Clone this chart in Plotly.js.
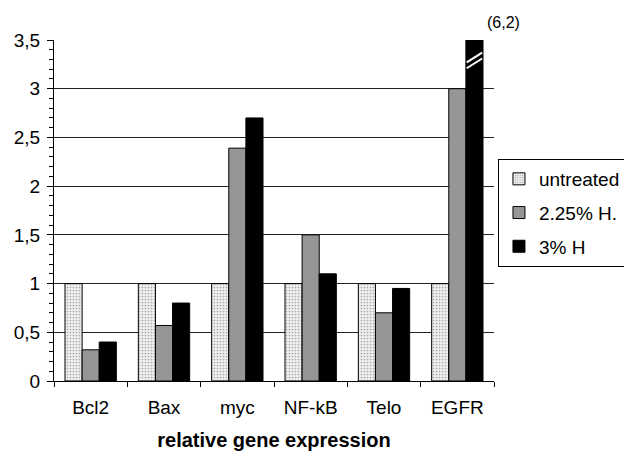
<!DOCTYPE html>
<html>
<head>
<meta charset="utf-8">
<script src="https://cdn.plot.ly/plotly-3.0.1.min.js"></script>
<style>html,body{margin:0;padding:0;background:#fff;}#chart{width:624px;height:461px;}</style>
</head>
<body>
<div id="chart"></div>
<script>
const categories = ["Bcl2", "Bax", "myc", "NF-kB", "Telo", "EGFR"];
const seriesNames = ["untreated", "2.25% H.", "3% H"];
const untreated = [1, 1, 1, 1, 1, 1];
const h225 = [0.32, 0.57, 2.39, 1.5, 0.7, 3.0];
const h3 = [0.4, 0.8, 2.7, 1.1, 0.95, 6.2];
const yTickVals = [0, 0.5, 1, 1.5, 2, 2.5, 3, 3.5];
const axisMax = 3.5;

const FONT = "Liberation Sans, Arial, sans-serif";
const line = {color: "#000", width: 1};

const traces = [
  {type: "bar", name: seriesNames[0], legendgroup: "a", x: categories, y: untreated,
   marker: {color: "#eeeeee", line: line,
            pattern: {shape: ".", fgcolor: "#a8a8a8", bgcolor: "#efefef", size: 3, solidity: 0.25}}},
  {type: "bar", name: seriesNames[1], legendgroup: "b", x: categories, y: h225,
   marker: {color: "#969696", line: line}},
  {type: "bar", name: seriesNames[2], legendgroup: "c", x: categories, y: h3,
   marker: {color: "#000000", line: line}}
];

// locate the clipped bar (value beyond the axis) for the break mark and label
const clipIdx = h3.findIndex(v => v > axisMax);
const bargap = 0.3;
const barW = (1 - bargap) / 3;
const cx = clipIdx + barW; // centre of third bar in the group
const shapes = [];
const annotations = [];
if (clipIdx >= 0) {
  [[3.21, 3.31], [3.27, 3.37]].forEach(p => {
    shapes.push({type: "line", xref: "x", yref: "y",
      x0: cx - barW * 0.45, x1: cx + barW * 0.45, y0: p[0], y1: p[1],
      line: {color: "#ffffff", width: 2}});
  });
  annotations.push({xref: "x", yref: "y", x: cx, y: axisMax,
    text: "(" + String(h3[clipIdx]).replace(".", ",") + ")",
    showarrow: false, xanchor: "center", yanchor: "bottom", xshift: 29, yshift: 7,
    font: {family: FONT, size: 16, color: "#000"}});
}

const layout = {
  width: 624, height: 461,
  margin: {l: 54, r: 130, t: 40, b: 80, autoexpand: false},
  paper_bgcolor: "#fff", plot_bgcolor: "#fff",
  separators: ", ",
  font: {family: FONT, size: 19, color: "#000"},
  barmode: "group", bargap: bargap, bargroupgap: 0,
  showlegend: true,
  legend: {x: 1.009, y: 0.651, xanchor: "left", yanchor: "top",
           bordercolor: "#000", borderwidth: 1, bgcolor: "#fff",
           traceorder: "grouped", tracegroupgap: 6,
           font: {family: FONT, size: 19, color: "#000"}, itemwidth: 30},
  xaxis: {type: "category", range: [-0.5, 5.5], tickson: "boundaries", ticks: "outside", ticklen: 5,
          tickcolor: "#000", showline: true, linecolor: "#000", linewidth: 1,
          showgrid: false, zeroline: false, ticklabelstandoff: 9,
          tickfont: {family: FONT, size: 19},
          title: {text: "<b>relative gene expression</b>", standoff: 16,
                  font: {family: FONT, size: 20}}},
  yaxis: {range: [0, axisMax], tickvals: yTickVals, ticks: "outside", ticklen: 6,
          tickcolor: "#000", showline: true, linecolor: "#000", linewidth: 1,
          showgrid: true, gridcolor: "#222", gridwidth: 1, zeroline: false,
          ticklabelstandoff: 3,
          minor: {dtick: 0.1, ticks: "outside", ticklen: 4, tickcolor: "#000", showgrid: false},
          tickfont: {family: FONT, size: 19}},
  shapes: shapes,
  annotations: annotations
};

Plotly.newPlot("chart", traces, layout, {displayModeBar: false, staticPlot: true});
</script>
</body>
</html>
